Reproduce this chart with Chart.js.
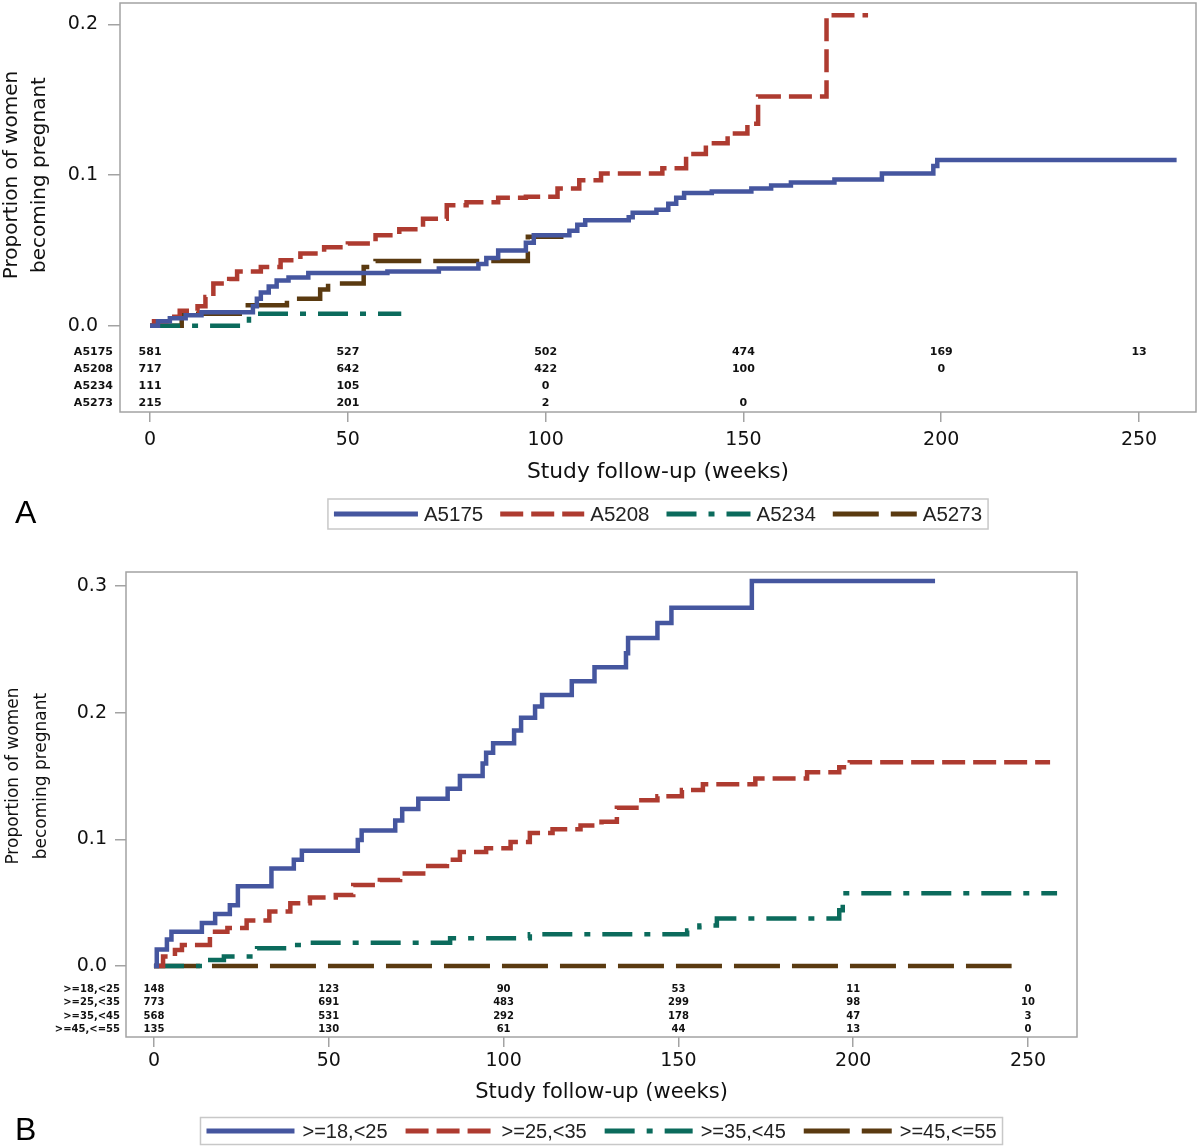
<!DOCTYPE html>
<html><head><meta charset="utf-8">
<script src="https://cdn.jsdelivr.net/npm/chart.js@4.4.1/dist/chart.umd.min.js"></script>
<style>
html,body{margin:0;padding:0;background:#fff;}
#wrap{position:relative;width:1200px;height:1146px;overflow:hidden;background:#fff;}
canvas{position:absolute;left:0;}
</style></head><body>
<div id="wrap">
<canvas id="cA" width="1200" height="545" style="top:0px"></canvas>
<canvas id="cB" width="1200" height="601" style="top:545px"></canvas>
</div>
<script>
// ---------- shared tick labels ----------
const xTickValues = [0, 50, 100, 150, 200, 250];
const yTicksA = [0, 0.1, 0.2];
const yTicksB = [0, 0.1, 0.2, 0.3];

// ---------- Panel A : by study ----------
const groupsA = ['A5175', 'A5208', 'A5234', 'A5273'];
const a5175T = [0, 2, 5, 9, 13, 26, 27, 28, 30, 32, 35, 40, 60, 73, 83, 85, 88, 95, 97, 106, 108, 110, 121, 122, 128, 131, 133, 135, 142, 152, 157, 162, 173, 185, 198, 199, 259.5];
const a5175P = [0, 0.003, 0.005, 0.007, 0.009, 0.013, 0.018, 0.022, 0.026, 0.030, 0.032, 0.035, 0.036, 0.038, 0.041, 0.045, 0.050, 0.055, 0.060, 0.063, 0.067, 0.070, 0.072, 0.075, 0.077, 0.081, 0.085, 0.088, 0.089, 0.091, 0.093, 0.095, 0.097, 0.101, 0.106, 0.110, 0.110];
const a5208T = [0, 1, 5, 7.5, 12, 14, 16, 20, 22, 28, 33, 38, 44, 50, 57, 63, 69, 75, 80, 88, 95, 103, 108.5, 114, 129.5, 135.5, 140.5, 146, 151, 153.7, 171, 181.5];
const a5208P = [0, 0.003, 0.006, 0.010, 0.013, 0.019, 0.028, 0.031, 0.036, 0.039, 0.0435, 0.048, 0.052, 0.0545, 0.060, 0.064, 0.071, 0.080, 0.082, 0.085, 0.0855, 0.091, 0.0966, 0.101, 0.1045, 0.114, 0.121, 0.1276, 0.134, 0.152, 0.206, 0.206];
const a5234T = [0, 25, 63.5];
const a5234P = [0, 0.008, 0.008];
const a5273T = [0, 8, 23.5, 34.6, 43, 45, 54, 57, 95.5, 104.5];
const a5273P = [0, 0.008, 0.0136, 0.018, 0.024, 0.028, 0.039, 0.043, 0.059, 0.059];
const riskA5175 = [581, 527, 502, 474, 169, 13];
const riskA5208 = [717, 642, 422, 100, 0, null];
const riskA5234 = [111, 105, 0, null, null, null];
const riskA5273 = [215, 201, 2, 0, null, null];

// ---------- Panel B : by age group ----------
const groupsB = ['>=18,<25', '>=25,<35', '>=35,<45', '>=45,<=55'];
const b18T = [0, 0.8, 3.7, 5, 13.7, 17.5, 21.7, 24, 33.6, 40, 42.3, 58.3, 59.4, 69, 71, 75.6, 84, 87.5, 94, 95, 97, 103, 105, 109, 111, 119.5, 126, 135, 135.6, 144, 148, 171, 223.4];
const b18P = [0, 0.013, 0.021, 0.027, 0.034, 0.041, 0.048, 0.063, 0.077, 0.084, 0.091, 0.0995, 0.107, 0.115, 0.124, 0.132, 0.140, 0.150, 0.160, 0.1685, 0.176, 0.186, 0.196, 0.205, 0.214, 0.225, 0.236, 0.247, 0.259, 0.271, 0.283, 0.304, 0.304];
const b25T = [0, 2.6, 6, 8, 16, 21, 26.5, 33, 39, 44.6, 52, 57, 64.6, 70.4, 77, 83.8, 87.5, 95, 102, 107.5, 114, 122, 128, 132.4, 138, 144, 151, 157, 172, 186.8, 196, 199, 256.3];
const b25P = [0, 0.0074, 0.0126, 0.0166, 0.027, 0.030, 0.036, 0.043, 0.0495, 0.054, 0.056, 0.064, 0.068, 0.073, 0.079, 0.084, 0.090, 0.093, 0.098, 0.105, 0.108, 0.111, 0.114, 0.125, 0.131, 0.134, 0.139, 0.1435, 0.148, 0.153, 0.157, 0.161, 0.161];
const b35T = [0, 15, 20, 29.5, 38, 43, 84.7, 107.5, 152.5, 156, 161, 196, 197, 258.3];
const b35P = [0, 0.0047, 0.0074, 0.014, 0.0166, 0.0184, 0.022, 0.025, 0.028, 0.032, 0.0376, 0.044, 0.0574, 0.0574];
const b45T = [0, 245.3];
const b45P = [0, 0];
const riskB18 = [148, 123, 90, 53, 11, 0];
const riskB25 = [773, 691, 483, 299, 98, 10];
const riskB35 = [568, 531, 292, 178, 47, 3];
const riskB45 = [135, 130, 61, 44, 13, 0];

// ---------- styles ----------
const COLORS = ['#45569f', '#ae3b30', '#0b6b5c', '#5a3a10'];
const DASHES = [[], [23, 8], [30, 12, 6, 12], [46, 12]];
const FONT = '"DejaVu Sans", sans-serif';
const LFONT = '"Liberation Sans", Arial, sans-serif';

function pts(t, p) { return t.map((v, i) => ({ x: v, y: p[i] })); }
function ds(label, t, p, k) {
  return { label, data: pts(t, p), borderColor: COLORS[k], borderDash: DASHES[k], borderWidth: 4.5,
    stepped: 'before', pointRadius: 0, fill: false, tension: 0, borderCapStyle: 'butt', borderJoinStyle: 'miter' };
}

function decor(cfg) {
  return {
    id: 'decor',
    afterDraw(chart) {
      const ctx = chart.ctx, ca = chart.chartArea, xs = chart.scales.x, ys = chart.scales.y;
      ctx.save();
      // frame
      ctx.strokeStyle = '#a3a3a3'; ctx.lineWidth = 1.5;
      ctx.strokeRect(ca.left, ca.top, ca.right - ca.left, ca.bottom - ca.top);
      // at-risk table
      ctx.fillStyle = '#111';
      ctx.font = 'bold ' + cfg.riskFont + 'px ' + FONT;
      ctx.textBaseline = 'middle';
      cfg.risk.forEach((row, i) => {
        const y = ca.bottom - cfg.riskOffsets[i];
        ctx.textAlign = 'right';
        ctx.fillText(cfg.groups[i], ca.left - cfg.riskGap, y);
        ctx.textAlign = 'center';
        row.forEach((n, j) => { if (n !== null) ctx.fillText(String(n), xs.getPixelForValue(xTickValues[j]), y); });
      });
      // y title (two lines, rotated)
      const yTop = ys.getPixelForValue(cfg.yTicks[cfg.yTicks.length - 1]);
      const yBot = ys.getPixelForValue(0);
      const yc = (yTop + yBot) / 2;
      ctx.fillStyle = '#111';
      ctx.font = cfg.yTitleFont + 'px ' + FONT;
      ctx.textAlign = 'center'; ctx.textBaseline = 'middle';
      cfg.yTitle.forEach((line, i) => {
        ctx.save(); ctx.translate(cfg.yTitleX[i], yc); ctx.rotate(-Math.PI / 2);
        ctx.fillText(line, 0, 0); ctx.restore();
      });
      // x title
      ctx.font = cfg.xTitleFont + 'px ' + FONT;
      ctx.fillText(cfg.xTitle, (ca.left + ca.right) / 2, cfg.xTitleY);
      // legend
      const L = cfg.legend;
      ctx.font = L.font + 'px ' + LFONT;
      const items = chart.data.datasets.map(d => ({ d, w: ctx.measureText(d.label).width }));
      let total = L.pad * 2;
      items.forEach((it, i) => { total += L.sample + L.textGap + it.w + (i ? L.entryGap : 0); });
      const bx = (ca.left + ca.right) / 2 - total / 2 + L.shift;
      ctx.strokeStyle = '#c8c8c8'; ctx.lineWidth = 1.5;
      ctx.strokeRect(bx, L.cy - L.h / 2, total, L.h);
      let x = bx + L.pad;
      items.forEach((it, i) => {
        if (i) x += L.entryGap;
        ctx.save();
        ctx.strokeStyle = it.d.borderColor; ctx.lineWidth = 5; ctx.lineCap = 'butt';
        ctx.setLineDash(it.d.borderDash);
        ctx.beginPath(); ctx.moveTo(x, L.cy); ctx.lineTo(x + L.sample, L.cy); ctx.stroke();
        ctx.restore();
        x += L.sample + L.textGap;
        ctx.fillStyle = '#222'; ctx.textAlign = 'left'; ctx.textBaseline = 'middle';
        ctx.fillText(it.d.label, x, L.cy + 1);
        x += it.w;
      });
      // panel letter
      ctx.fillStyle = '#000'; ctx.font = '32px ' + LFONT; ctx.textAlign = 'left'; ctx.textBaseline = 'middle';
      ctx.fillText(cfg.letter, 15, cfg.letterY);
      ctx.restore();
    }
  };
}

function makeChart(id, H, datasets, o) {
  const bottom = o.bottom;
  return new Chart(document.getElementById(id), {
    type: 'line',
    data: { datasets },
    options: {
      responsive: false, animation: false, devicePixelRatio: 1,
      layout: { padding: { left: 0, right: 1200 - o.right, top: o.top, bottom: 0 } },
      plugins: { legend: { display: false }, tooltip: { enabled: false } },
      scales: {
        x: {
          type: 'linear', min: o.xmin, max: o.xmax,
          afterBuildTicks: s => { s.ticks = xTickValues.map(v => ({ value: v })); },
          afterFit: s => { s.height = H - bottom; s.paddingLeft = 0; s.paddingRight = 0; },
          ticks: { autoSkip: false, maxRotation: 0, padding: o.xPad, color: '#111', font: { family: FONT, size: 19 }, callback: v => String(v) },
          grid: { drawOnChartArea: false, drawTicks: true, tickLength: 10, color: '#a3a3a3', lineWidth: 1.5 },
          border: { display: false }
        },
        y: {
          type: 'linear', min: o.ymin, max: o.ymax,
          afterBuildTicks: s => { s.ticks = o.yTicks.map(v => ({ value: v })); },
          afterFit: s => { s.width = o.left; s.paddingTop = 0; s.paddingBottom = 0; },
          ticks: { padding: o.yPad, color: '#111', font: { family: FONT, size: 19 }, callback: v => Number(v).toFixed(1) },
          grid: { drawOnChartArea: false, drawTicks: true, tickLength: o.yTick, color: '#a3a3a3', lineWidth: 1.5 },
          border: { display: false }
        }
      }
    },
    plugins: [decor(o.decor)]
  });
}

makeChart('cA', 545, [
  ds('A5175', a5175T, a5175P, 0),
  ds('A5208', a5208T, a5208P, 1),
  ds('A5234', a5234T, a5234P, 2),
  ds('A5273', a5273T, a5273P, 3)
], {
  left: 120, right: 1196, top: 3, bottom: 412, xmin: -7.6, xmax: 264.4, ymin: -0.0572, ymax: 0.2141,
  yTicks: yTicksA, xPad: 7, yPad: 10, yTick: 12,
  decor: {
    groups: groupsA, risk: [riskA5175, riskA5208, riskA5234, riskA5273], riskFont: 11,
    riskOffsets: [60, 43, 26, 9], riskGap: 7, yTicks: yTicksA,
    yTitle: ['Proportion of women', 'becoming pregnant'], yTitleX: [12, 40], yTitleFont: 20,
    xTitle: 'Study follow-up (weeks)', xTitleY: 472, xTitleFont: 21.8,
    legend: { font: 20.5, sample: 84, textGap: 6, entryGap: 17, pad: 6, cy: 514, h: 30, shift: 0 },
    letter: 'A', letterY: 514
  }
});

makeChart('cB', 601, [
  ds('>=18,<25', b18T, b18P, 0),
  ds('>=25,<35', b25T, b25P, 1),
  ds('>=35,<45', b35T, b35P, 2),
  ds('>=45,<=55', b45T, b45P, 3)
], {
  left: 126, right: 1077, top: 27, bottom: 492, xmin: -8.0, xmax: 264.0, ymin: -0.0561, ymax: 0.3112,
  yTicks: yTicksB, xPad: 3, yPad: 8, yTick: 11,
  decor: {
    groups: groupsB, risk: [riskB18, riskB25, riskB35, riskB45], riskFont: 10,
    riskOffsets: [48, 34.5, 21, 8], riskGap: 6, yTicks: yTicksB,
    yTitle: ['Proportion of women', 'becoming pregnant'], yTitleX: [14, 42], yTitleFont: 17,
    xTitle: 'Study follow-up (weeks)', xTitleY: 548, xTitleFont: 21,
    legend: { font: 20, sample: 88, textGap: 8, entryGap: 18, pad: 6, cy: 586, h: 27, shift: 0 },
    letter: 'B', letterY: 586
  }
});
</script>
</body></html>
